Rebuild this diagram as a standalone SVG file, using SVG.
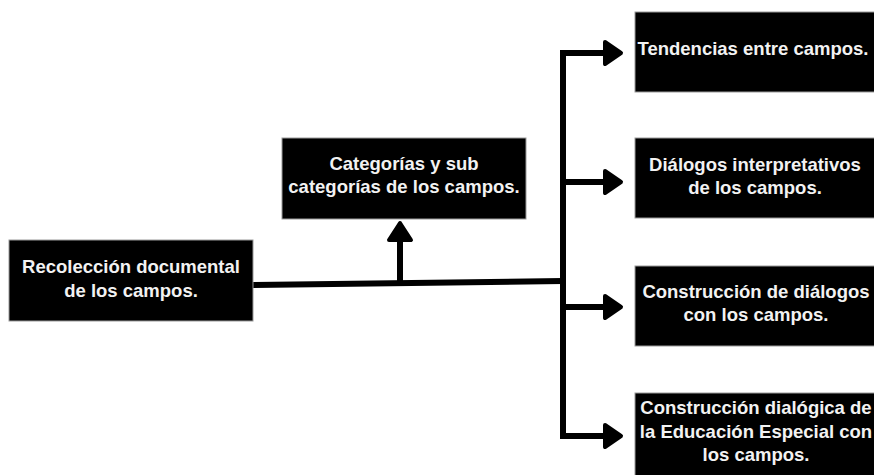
<svg xmlns="http://www.w3.org/2000/svg" width="874" height="475" viewBox="0 0 874 475">
<style>
.box{fill:#000;stroke:#9a9a9a;stroke-width:1}
.t{fill:#f2f2f2;font-family:"Liberation Sans",Arial,sans-serif;font-weight:bold;font-size:18.5px;text-anchor:middle}
.ln{fill:none;stroke:#000;stroke-width:6;stroke-linecap:butt;stroke-linejoin:miter}
.ah{fill:#000;stroke:#000;stroke-width:4;stroke-linejoin:round}
</style>
<rect width="874" height="475" fill="#fff"/>
<g id="connectors">
<path class="ln" d="M253,285 L563,281"/>
<path class="ln" d="M400,283 L400,238"/>
<path class="ah" d="M389,240 L400,223 L411,240 Z"/>
<path class="ln" d="M607,53 L563,53 L563,436 L607,436"/>
<path class="ln" d="M563,182 L607,182"/>
<path class="ln" d="M563,307 L607,307"/>
<path class="ah" d="M605,42 L621,53 L605,64 Z"/>
<path class="ah" d="M605,171 L621,182 L605,193 Z"/>
<path class="ah" d="M605,296 L621,307 L605,318 Z"/>
<path class="ah" d="M605,425 L621,436 L605,447 Z"/>
</g>
<g id="n-recoleccion">
<rect class="box" x="9" y="240" width="244" height="81"/>
<text class="t" x="131" y="273">Recolección documental</text>
<text class="t" x="131" y="297">de los campos.</text>
</g>
<g id="n-categorias">
<rect class="box" x="282" y="138" width="244" height="81"/>
<text class="t" x="404" y="170">Categorías y sub</text>
<text class="t" x="404" y="193">categorías de los campos.</text>
</g>
<g id="n-tendencias">
<rect class="box" x="635" y="12" width="245" height="80"/>
<text class="t" x="753" y="55">Tendencias entre campos.</text>
</g>
<g id="n-dialogos">
<rect class="box" x="635" y="138" width="245" height="80"/>
<text class="t" x="755" y="171">Diálogos interpretativos</text>
<text class="t" x="755" y="194">de los campos.</text>
</g>
<g id="n-construccion">
<rect class="box" x="635" y="266" width="245" height="80"/>
<text class="t" x="756" y="298">Construcción de diálogos</text>
<text class="t" x="756" y="321">con los campos.</text>
</g>
<g id="n-construccion-dialogica">
<rect class="box" x="635" y="393" width="245" height="90"/>
<text class="t" x="756" y="414">Construcción dialógica de</text>
<text class="t" x="756" y="438">la Educación Especial con</text>
<text class="t" x="756" y="461">los campos.</text>
</g>
</svg>
